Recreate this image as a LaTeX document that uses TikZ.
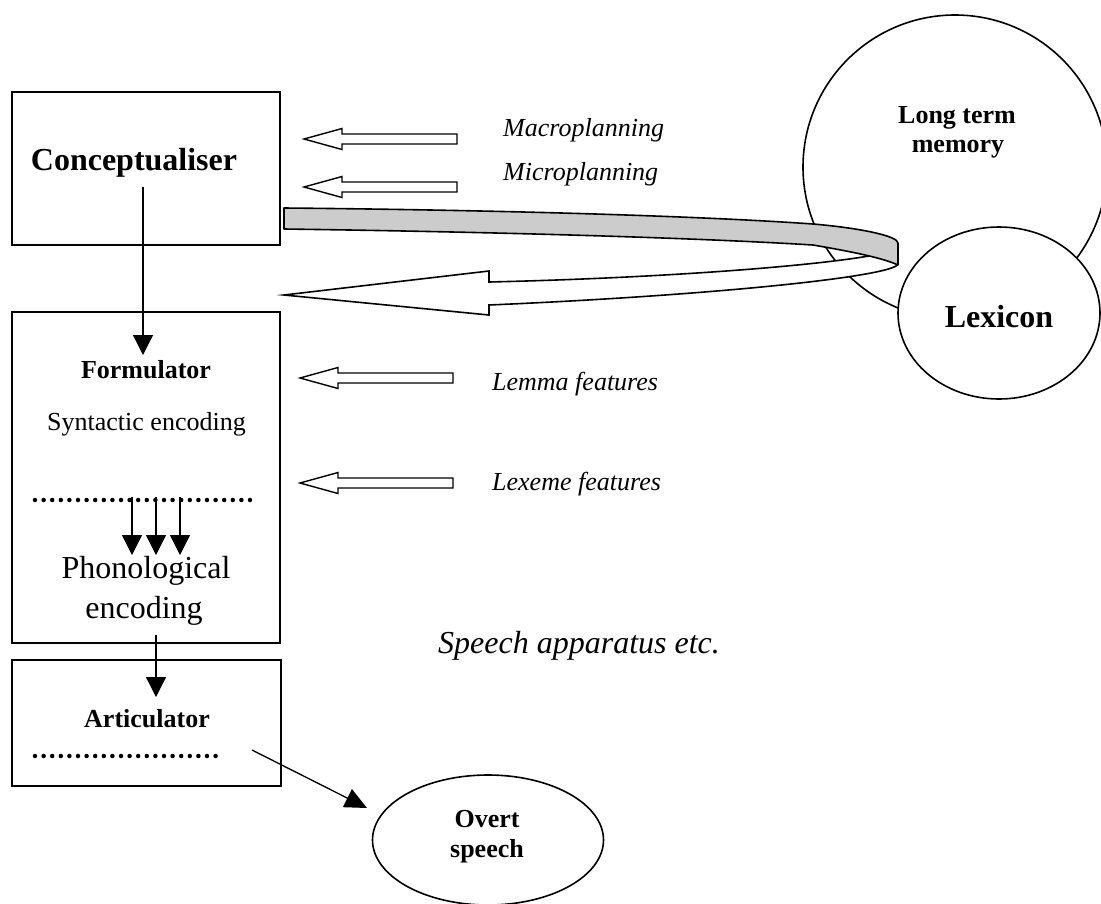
\documentclass[tikz,border=0pt]{standalone}
\usepackage{fontspec}
\setmainfont{Liberation Serif}
\usetikzlibrary{arrows.meta,shapes.geometric}
\definecolor{ribbongray}{HTML}{CCCCCC}
\newcommand\szA{\fontsize{26}{30}\selectfont}
\newcommand\szB{\fontsize{32}{37}\selectfont}
\begin{document}
\begin{tikzpicture}[x=1pt,y=-1pt,
  box/.style={draw, line width=1.7pt, rectangle, inner sep=0pt},
  oval/.style={draw, line width=1.6pt, ellipse, fill=white, inner sep=0pt},
  txt/.style={inner sep=0pt, anchor=base},
  ltxt/.style={inner sep=0pt, anchor=base west},
  arr/.style={line width=1.3pt, -{Triangle[length=20pt,width=20pt]}},
  dotline/.style={line width=4.5pt, line cap=round, dash pattern=on 0pt off 8.6pt},
  blockarr/.pic={\draw[line width=1.4pt, fill=white, line join=miter]
     (0,0) -- (38,-10.5) -- (38,-5) -- (153,-5) -- (153,5) -- (38,5) -- (38,10.5) -- cycle;}
]
\useasboundingbox (0,0) rectangle (1101,903);

% long term memory circle
\node[oval, circle, minimum size=304pt] (ltm) at (955,167) {};
\node[txt] (ltmA) at (957,123) {\szA\bfseries Long term};
\node[txt] (ltmB) at (958,152) {\szA\bfseries memory};

% ribbon: white returning arrow
\draw[line width=1.6pt, fill=white, line join=miter]
  (284,295) -- (489,271) -- (489,282)
  .. controls (660,278) and (820,266) .. (880,254)
  -- (898,254) -- (898,264)
  .. controls (895,276) and (720,295) .. (489,305)
  -- (489,315) -- cycle;
% ribbon: grey band
\draw[line width=1.6pt, fill=ribbongray, line join=round]
  (284,208) .. controls (500,210) and (700,216) .. (813,224)
  .. controls (860,228) and (898,236) .. (898,243)
  -- (898,265)
  .. controls (885,259) and (860,253) .. (813,245)
  .. controls (700,238) and (500,232) .. (284,229) -- cycle;

% lexicon
\node[oval, minimum width=202pt, minimum height=172pt] (lex) at (999,313) {};
\node[txt] (lexT) at (999,327) {\szB\bfseries Lexicon};

% boxes
\node[box, minimum width=268pt, minimum height=153pt] (conc) at (146,168.5) {};
\node[box, minimum width=268pt, minimum height=331pt] (form) at (146,477.5) {};
\node[box, minimum width=269pt, minimum height=126pt] (artic) at (146.5,723) {};

\node[txt] (concT) at (134,170) {\szB\bfseries Conceptualiser};
\node[txt] (formT) at (146,378) {\szA\bfseries Formulator};
\node[txt] (synT) at (146.5,430) {\szA Syntactic encoding};
\node[txt] (phonA) at (146,578) {\szB Phonological};
\node[txt] (phonB) at (144,618) {\szB encoding};
\node[txt] (artT) at (147,727) {\szA\bfseries Articulator};

% dotted lines
\draw[dotline] (35,500) -- (257,500);
\draw[dotline] (35,756) -- (224,756);

% connectors
\coordinate (c1) at (143,187);
\coordinate (f1) at (143,355);
\draw[arr] (c1) -- (f1);
\foreach \x/\n in {132/a,156/b,180/c}{
  \coordinate (s\n) at (\x,497);
  \coordinate (p\n) at (\x,555);
  \draw[arr] (s\n) -- (p\n);
}
\coordinate (f2) at (156,635);
\coordinate (a1) at (156,697);
\draw[arr] (f2) -- (a1);

% overt speech
\node[oval, minimum width=231pt, minimum height=130pt] (overt) at (488,840) {};
\node[txt] (ovA) at (487,827) {\szA\bfseries Overt};
\node[txt] (ovB) at (487,857) {\szA\bfseries speech};
\coordinate (a2) at (252,750);
\coordinate (a3) at (367,808);
\draw[line width=1.3pt, -{Triangle[length=22pt,width=20pt]}] (a2) -- (a3);

% block arrows
\pic at (304,139) {blockarr};
\pic at (304,187) {blockarr};
\pic at (300,378) {blockarr};
\pic at (300,483) {blockarr};

% labels
\node[ltxt] (macro) at (503,136) {\szA\itshape Macroplanning};
\node[ltxt] (micro) at (503,180) {\szA\itshape Microplanning};
\node[ltxt] (lemma) at (492,390) {\szA\itshape Lemma features};
\node[ltxt] (lexeme) at (492,490) {\szA\itshape Lexeme features};
\node[ltxt] (speech) at (438,653) {\szB\itshape Speech apparatus etc.};
\end{tikzpicture}
\end{document}
